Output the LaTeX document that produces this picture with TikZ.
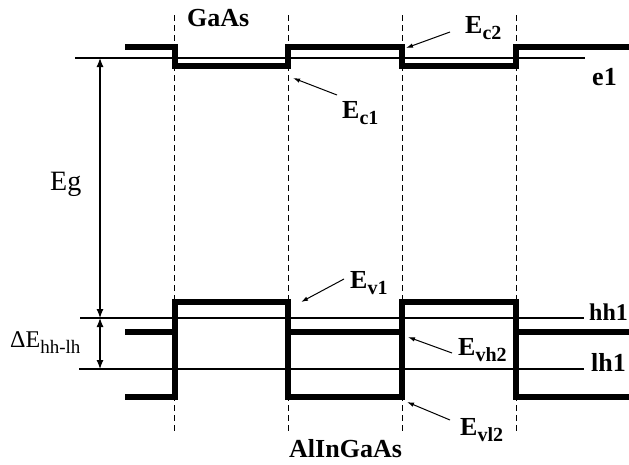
\documentclass[tikz,border=0pt]{standalone}
\usepackage{fontspec}
\setmainfont{Liberation Serif}
\usetikzlibrary{arrows.meta}
\newcommand{\bandsub}[2][20]{\raisebox{-6pt}{\fontsize{#1}{#1}\selectfont #2}}

\begin{document}
\begin{tikzpicture}[x=1pt, y=-1pt,
  band/.style={line width=6.5pt},
  level/.style={line width=2.4pt},
  iface/.style={line width=0.9pt, dash pattern=on 6pt off 4pt},
  dim/.style={line width=1.2pt, {Latex[length=9pt,width=7pt]}-{Latex[length=9pt,width=7pt]}},
  pointer/.style={line width=1pt, -{Latex[length=7pt,width=4.5pt]}},
  lbl/.style={inner sep=0pt, anchor=base west, font=\fontsize{26}{26}\selectfont\bfseries},
  dimlbl/.style={inner sep=0pt, anchor=base west, font=\fontsize{24}{24}\selectfont}]
\useasboundingbox (0,0) rectangle (629,464);

% interfaces GaAs / AlInGaAs
\foreach \x in {174,288,402,516}
  \draw[iface] (\x,15) -- (\x,433);

% conduction band edge
\draw[band] (125,47) -- (175,47) -- (175,66) -- (288,66) -- (288,47)
  -- (402,47) -- (402,66) -- (516,66) -- (516,47) -- (629,47);

% valence band edge: wells and light hole barriers
\draw[band] (125,397) -- (175,397) -- (175,302) -- (288,302) -- (288,397)
  -- (402,397) -- (402,302) -- (516,302) -- (516,397) -- (629,397);
% heavy hole barriers
\foreach \a/\b in {125/175, 288/402, 516/629}
  \draw[band] (\a,332) -- (\b,332);

% confined levels
\draw[level] (75,58) -- (585,58);
\draw[level] (80,318) -- (584,318);
\draw[level] (79,369) -- (584,369);
\node[lbl] (e1) at (592,85) {e1};
\node[lbl, font=\fontsize{24}{24}\selectfont\bfseries] (hh1) at (589,320) {hh1};
\node[lbl] (lh1) at (591,371) {lh1};

% layers
\node[lbl] (gaas) at (187,26) {GaAs};
\node[lbl] (alingaas) at (289,457) {AlInGaAs};

% gap and hh-lh splitting
\coordinate (egtop) at (100,58);
\coordinate (egbot) at (100,318);
\coordinate (lhbot) at (100,369);
\draw[dim] (egtop) -- (egbot);
\draw[dim] (egbot) -- (lhbot);
\node[dimlbl, font=\fontsize{28}{28}\selectfont] (eg) at (50,190) {Eg};
\node[dimlbl] (dehl) at (10,347) {ΔE\bandsub[19]{hh-lh}};

% band edge pointers
\node[lbl] (ec2) at (465,33) {E\bandsub{c2}};
\coordinate (ec2tip) at (406,48);
\draw[pointer] ([shift={(-15pt,1pt)}]ec2.base west) -- (ec2tip);

\node[lbl] (ec1) at (342,118) {E\bandsub{c1}};
\coordinate (ec1tip) at (293,78);
\draw[pointer] ([shift={(-5pt,23pt)}]ec1.base west) -- (ec1tip);

\node[lbl] (ev1) at (350,288) {E\bandsub{v1}};
\coordinate (ev1tip) at (301,302);
\draw[pointer] ([shift={(-6pt,9pt)}]ev1.base west) -- (ev1tip);

\node[lbl] (evh2) at (458,355) {E\bandsub{vh2}};
\coordinate (evh2tip) at (408,337);
\draw[pointer] ([shift={(-6pt,2pt)}]evh2.base west) -- (evh2tip);

\node[lbl] (evl2) at (460,435) {E\bandsub{vl2}};
\coordinate (evl2tip) at (407,402);
\draw[pointer] ([shift={(-10pt,15pt)}]evl2.base west) -- (evl2tip);
\end{tikzpicture}
\end{document}
